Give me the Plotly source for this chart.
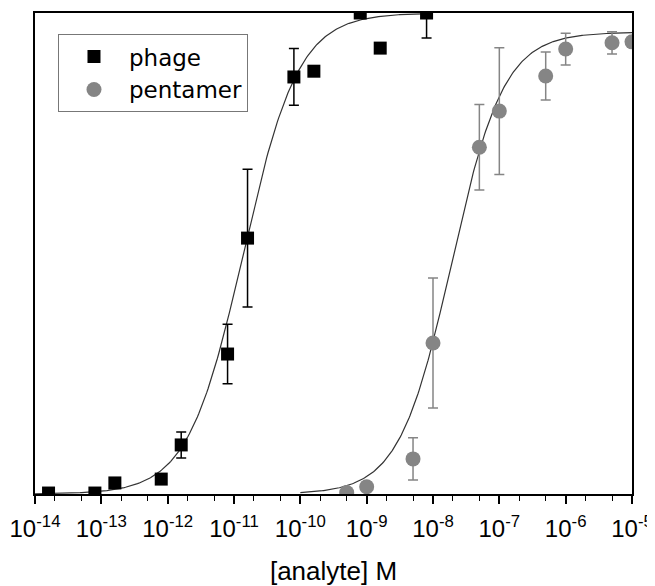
import numpy as np
import plotly.graph_objects as go

# ---- data ----
phage_x = [1.6e-14, 8e-14, 1.6e-13, 8e-13, 1.6e-12, 8e-12, 1.6e-11, 8e-11, 1.6e-10, 8e-10, 1.6e-9, 8e-9]
phage_y = [0.2, 0.2, 2.3, 3.1, 10.2, 29.1, 53.2, 86.7, 87.9, 100.0, 92.7, 100.0]
phage_err = [0, 0, 1.0, 0, 2.7, 6.2, 14.3, 5.9, 0, 0, 0, 5.2]

pent_x = [5e-10, 1e-9, 5e-9, 1e-8, 5e-8, 1e-7, 5e-7, 1e-6, 5e-6, 1e-5]
pent_y = [0.3, 1.5, 7.3, 31.4, 72.1, 79.6, 86.9, 92.5, 93.8, 94.0]
pent_err = [0, 1.0, 4.4, 13.5, 8.9, 13.2, 5.0, 3.3, 2.3, 0]

# Hill fit parameters (top, logEC50, slope) estimated from the drawn curves
phage_fit = dict(top=100.0, logec50=-10.86, n=1.04, lo=-14.0, hi=-8.0)
pent_fit = dict(top=96.0, logec50=-7.72, n=1.1, lo=-10.0, hi=-5.0)

tick_vals = [1e-14, 1e-13, 1e-12, 1e-11, 1e-10, 1e-9, 1e-8, 1e-7, 1e-6, 1e-5]
tick_text = ["10<sup>-14</sup>", "10<sup>-13</sup>", "10<sup>-12</sup>", "10<sup>-11</sup>",
             "10<sup>-10</sup>", "10<sup>-9</sup>", "10<sup>-8</sup>", "10<sup>-7</sup>",
             "10<sup>-6</sup>", "10<sup>-5</sup>"]


def hill(p):
    lx = np.linspace(p["lo"], p["hi"], 300)
    y = p["top"] / (1 + 10 ** ((p["logec50"] - lx) * p["n"]))
    return 10 ** lx, y


GRAY = "#858585"
fig = go.Figure()

fx, fy = hill(phage_fit)
fig.add_trace(go.Scatter(x=fx, y=fy, mode="lines", line=dict(color="#333333", width=1.2),
                         showlegend=False, hoverinfo="skip"))
gx, gy = hill(pent_fit)
fig.add_trace(go.Scatter(x=gx, y=gy, mode="lines", line=dict(color="#333333", width=1.2),
                         showlegend=False, hoverinfo="skip"))

fig.add_trace(go.Scatter(
    x=phage_x, y=phage_y, mode="markers", name="phage",
    marker=dict(symbol="square", size=13, color="black"),
    error_y=dict(type="data", array=phage_err, visible=True, color="black", thickness=1.5, width=5),
))
fig.add_trace(go.Scatter(
    x=pent_x, y=pent_y, mode="markers", name="pentamer",
    marker=dict(symbol="circle", size=15, color=GRAY),
    error_y=dict(type="data", array=pent_err, visible=True, color=GRAY, thickness=1.5, width=5),
))

# page body has an 8px margin, so the figure is 8px smaller and margins shifted
fig.update_layout(
    width=647, height=578,
    margin=dict(l=27, r=23, t=5, b=92, autoexpand=False),
    paper_bgcolor="white", plot_bgcolor="white",
    font=dict(family="Liberation Sans, Arial, sans-serif", color="black"),
    legend=dict(x=0.0385, y=0.956, xanchor="left", yanchor="top",
                bordercolor="#777777", borderwidth=1, bgcolor="rgba(255,255,255,0)",
                font=dict(size=23, family="DejaVu Sans"), itemwidth=60, tracegroupgap=0),
    showlegend=True,
)
fig.update_xaxes(
    type="log", range=[-14, -5], automargin=False,
    tickvals=tick_vals, ticktext=tick_text,
    ticks="outside", ticklen=8, tickwidth=1.5, tickcolor="black",
    minor=dict(ticks="outside", ticklen=5, tickwidth=1, tickcolor="black", showgrid=False),
    showline=True, linecolor="black", linewidth=2, mirror=True,
    showgrid=False, zeroline=False,
    tickfont=dict(size=24), ticklabelstandoff=4,
    title=dict(text="[analyte] M", font=dict(size=26), standoff=21),
)
fig.update_yaxes(
    range=[0, 100], showticklabels=False, ticks="", automargin=False,
    showline=True, linecolor="black", linewidth=2, mirror=True,
    showgrid=False, zeroline=False,
)

fig.write_html("out.html")
